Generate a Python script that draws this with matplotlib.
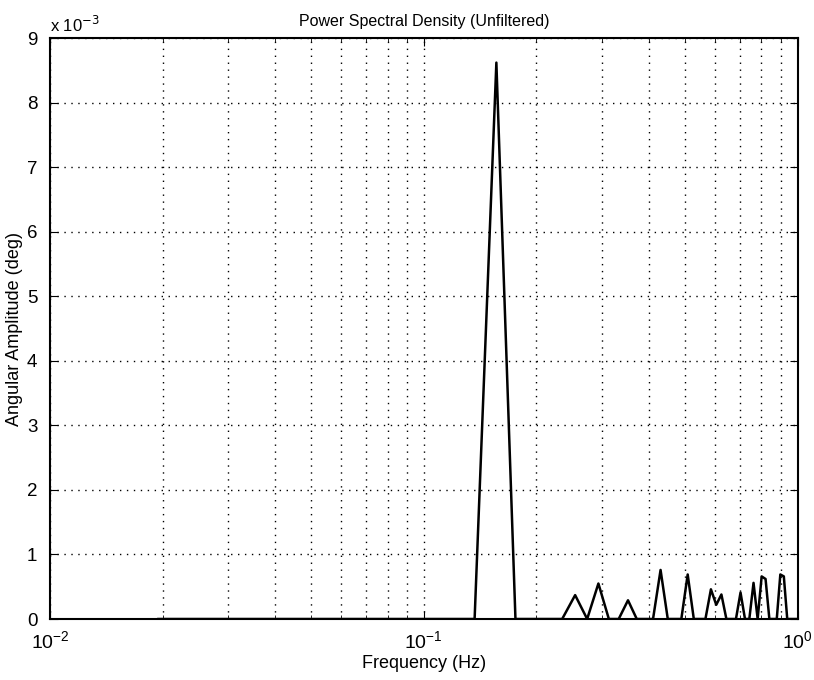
import numpy as np
import matplotlib.pyplot as plt
from matplotlib.ticker import FuncFormatter, LogLocator, FixedLocator

plt.rcParams['font.family'] = ['Liberation Sans', 'DejaVu Sans']

# frequency bins (Hz) and amplitude (deg)
freq = [0.0195, 0.1367, 0.1563, 0.1758, 0.2344, 0.2539, 0.2734, 0.2930,
        0.3125, 0.3320, 0.3516, 0.3711, 0.4102, 0.4297, 0.4492, 0.4883,
        0.5078, 0.5273, 0.5664, 0.5859, 0.6055, 0.6250, 0.6445, 0.6836,
        0.7031, 0.7227, 0.7422, 0.7617, 0.7813, 0.8008, 0.8203, 0.8398,
        0.8789, 0.8984, 0.9180, 0.9375, 0.9961]
amp = [0, 0, 8.62e-3, 0, 0, 0.37e-3, 0, 0.55e-3,
       0, 0, 0.29e-3, 0, 0, 0.76e-3, 0, 0,
       0.69e-3, 0, 0, 0.46e-3, 0.22e-3, 0.38e-3, 0, 0,
       0.41e-3, 0, 0, 0.56e-3, 0, 0.66e-3, 0.62e-3, 0,
       0, 0.69e-3, 0.66e-3, 0, 0]

fig = plt.figure(figsize=(8.14, 6.8), dpi=100)
ax = fig.add_axes([0.0614, 0.0897, 0.9186, 0.8543])

ax.semilogx(freq, amp, color='black', linewidth=1.8)

ax.set_xlim(1e-2, 1e0)
ax.set_ylim(0, 9e-3)
ax.yaxis.set_major_locator(FixedLocator(np.arange(10) * 1e-3))
ax.yaxis.set_major_formatter(FuncFormatter(lambda v, _: f'{v * 1e3:g}'))
ax.xaxis.set_minor_locator(LogLocator(base=10, subs=np.arange(2, 10)))

ax.grid(True, which='major', linestyle=(0, (1, 4)), color='black', linewidth=1.0)
ax.grid(True, which='minor', axis='x', linestyle=(0, (1, 4)), color='black', linewidth=1.0)

ax.tick_params(which='both', direction='in', top=True, right=True)
ax.tick_params(which='major', length=6)
ax.tick_params(which='minor', length=3)
ax.tick_params(axis='x', which='major', labelsize=14, pad=8)
ax.tick_params(axis='y', which='major', labelsize=13.5, pad=9)
for s in ax.spines.values():
    s.set_linewidth(1.5)

ax.text(0.0, 1.006, r'x 10$^{-3}$', transform=ax.transAxes, fontsize=12,
        ha='left', va='bottom')
ax.set_title('Power Spectral Density (Unfiltered)', fontsize=11.5, pad=9)
ax.set_xlabel('Frequency (Hz)', fontsize=13, labelpad=2)
ax.set_ylabel('Angular Amplitude (deg)', fontsize=13, labelpad=3)

fig.savefig('out.png', dpi=100)
